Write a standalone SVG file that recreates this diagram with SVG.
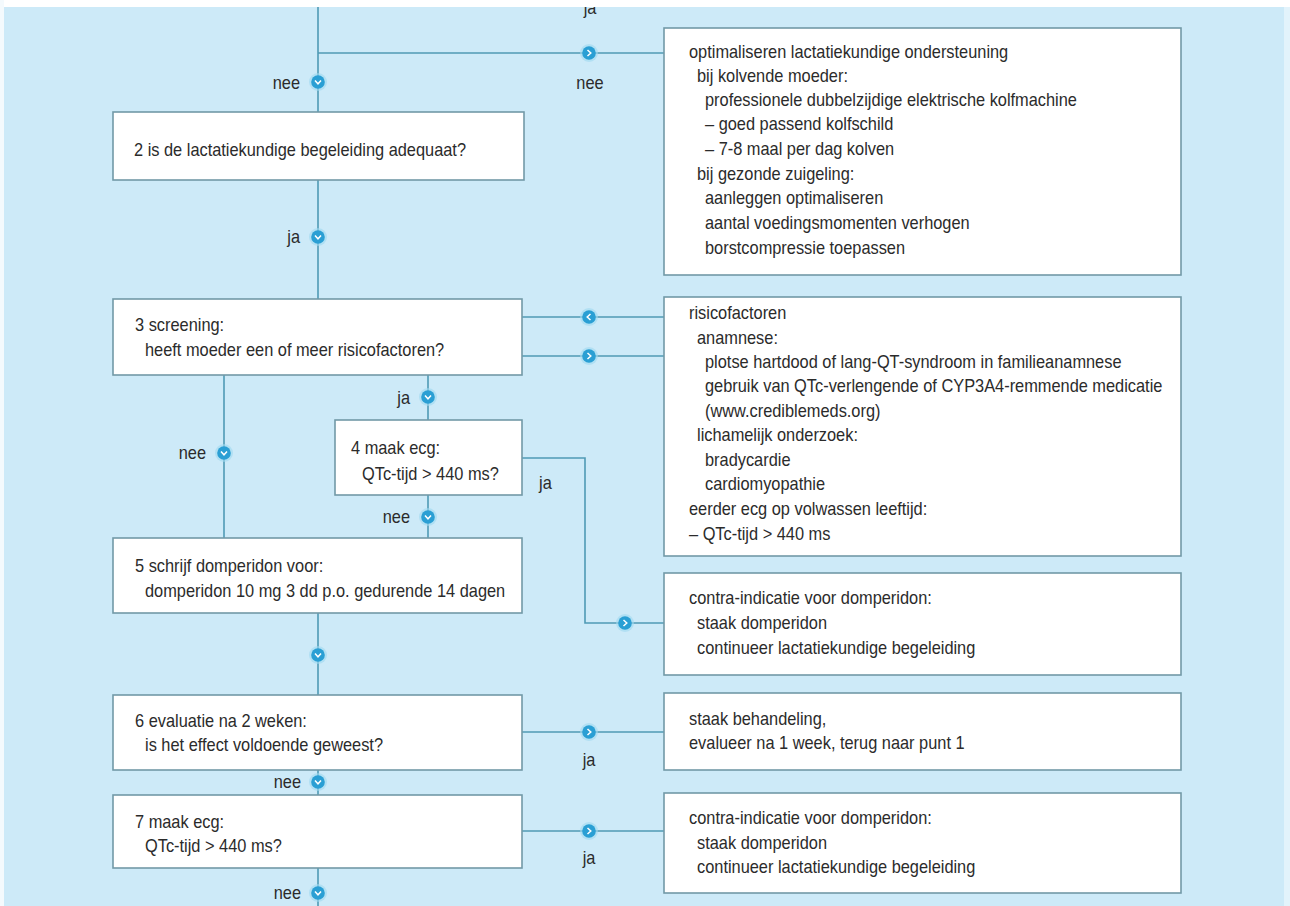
<svg xmlns="http://www.w3.org/2000/svg" xmlns:xlink="http://www.w3.org/1999/xlink" width="1290" height="906" viewBox="0 0 1290 906">
<style>
.bg{fill:#cdeaf8}
.box{fill:#ffffff;stroke:#7299a7;stroke-width:1.6}
.t{font-family:"Liberation Sans",Arial,sans-serif;font-size:18px;fill:#2b2b2b}
.c{fill:none;stroke:#4f9ab5;stroke-width:1.6}
.e{text-anchor:end}
.m{text-anchor:middle}
</style>
<defs>
<g id="dn"><circle r="9" fill="#9fd8f0" opacity="0.6"/><circle r="6.8" fill="#2a9fd4"/><path d="M-3,-1.5 L0,1.8 L3,-1.5" fill="none" stroke="#ffffff" stroke-width="1.5"/></g>
<g id="rt"><circle r="9" fill="#9fd8f0" opacity="0.6"/><circle r="6.8" fill="#2a9fd4"/><path d="M-1.5,-3 L1.8,0 L-1.5,3" fill="none" stroke="#ffffff" stroke-width="1.5"/></g>
<g id="lf"><circle r="9" fill="#9fd8f0" opacity="0.6"/><circle r="6.8" fill="#2a9fd4"/><path d="M1.5,-3 L-1.8,0 L1.5,3" fill="none" stroke="#ffffff" stroke-width="1.5"/></g>
</defs>
<rect class="bg" x="0" y="0" width="1290" height="906"/>

<g id="connectors">
<path class="c" d="M318,7 V112"/>
<path class="c" d="M318,53 H664"/>
<path class="c" d="M318,180 V299"/>
<path class="c" d="M522,317 H664"/>
<path class="c" d="M522,356 H664"/>
<path class="c" d="M224,375 V538"/>
<path class="c" d="M428,375 V420"/>
<path class="c" d="M522,458 H585 V623 H664"/>
<path class="c" d="M428,495 V538"/>
<path class="c" d="M318,613 V695"/>
<path class="c" d="M522,732 H664"/>
<path class="c" d="M318,770 V795"/>
<path class="c" d="M522,831 H664"/>
<path class="c" d="M318,868 V906"/>
<use xlink:href="#rt" x="589" y="53"/>
<use xlink:href="#dn" x="318" y="82"/>
<use xlink:href="#dn" x="318" y="237"/>
<use xlink:href="#lf" x="589" y="317"/>
<use xlink:href="#rt" x="589" y="356"/>
<use xlink:href="#dn" x="224" y="453"/>
<use xlink:href="#dn" x="428" y="397"/>
<use xlink:href="#dn" x="428" y="517"/>
<use xlink:href="#rt" x="625" y="623"/>
<use xlink:href="#dn" x="318" y="655"/>
<use xlink:href="#rt" x="589" y="732"/>
<use xlink:href="#dn" x="318" y="782"/>
<use xlink:href="#rt" x="589" y="831"/>
<use xlink:href="#dn" x="318" y="893"/>
<text class="t m" transform="matrix(0.91 0 0 1 590 14)">ja</text>
<text class="t m" transform="matrix(0.91 0 0 1 590 89)">nee</text>
<text class="t e" transform="matrix(0.91 0 0 1 300 89)">nee</text>
<text class="t e" transform="matrix(0.91 0 0 1 300 243)">ja</text>
<text class="t e" transform="matrix(0.91 0 0 1 410 404)">ja</text>
<text class="t e" transform="matrix(0.91 0 0 1 206 459)">nee</text>
<text class="t" transform="matrix(0.91 0 0 1 539 489)">ja</text>
<text class="t e" transform="matrix(0.91 0 0 1 410 523)">nee</text>
<text class="t m" transform="matrix(0.91 0 0 1 589 766)">ja</text>
<text class="t e" transform="matrix(0.91 0 0 1 301 788)">nee</text>
<text class="t m" transform="matrix(0.91 0 0 1 589 864)">ja</text>
<text class="t e" transform="matrix(0.91 0 0 1 301 899)">nee</text>
</g>

<g id="n2"><rect class="box" x="113" y="112" width="411" height="68"/>
<text class="t" transform="matrix(0.91 0 0 1 134 156)">2 is de lactatiekundige begeleiding adequaat?</text></g>

<g id="n3"><rect class="box" x="113" y="299" width="409" height="76"/>
<text class="t" transform="matrix(0.91 0 0 1 135 331)">3 screening:</text>
<text class="t" transform="matrix(0.91 0 0 1 145 356)">heeft moeder een of meer risicofactoren?</text></g>

<g id="n4"><rect class="box" x="335" y="420" width="187" height="75"/>
<text class="t" transform="matrix(0.91 0 0 1 351 454)">4 maak ecg:</text>
<text class="t" transform="matrix(0.91 0 0 1 362 480)">QTc-tijd &gt; 440 ms?</text></g>

<g id="n5"><rect class="box" x="113" y="538" width="409" height="75"/>
<text class="t" transform="matrix(0.91 0 0 1 135 572)">5 schrijf domperidon voor:</text>
<text class="t" transform="matrix(0.91 0 0 1 145 597)">domperidon 10 mg 3 dd p.o. gedurende 14 dagen</text></g>

<g id="n6"><rect class="box" x="113" y="695" width="409" height="75"/>
<text class="t" transform="matrix(0.91 0 0 1 135 727)">6 evaluatie na 2 weken:</text>
<text class="t" transform="matrix(0.91 0 0 1 145 751)">is het effect voldoende geweest?</text></g>

<g id="n7"><rect class="box" x="113" y="795" width="409" height="73"/>
<text class="t" transform="matrix(0.91 0 0 1 135 828)">7 maak ecg:</text>
<text class="t" transform="matrix(0.91 0 0 1 145 852)">QTc-tijd &gt; 440 ms?</text></g>

<g id="r1"><rect class="box" x="664" y="28" width="517" height="247"/>
<text class="t" transform="matrix(0.91 0 0 1 689 58)">optimaliseren lactatiekundige ondersteuning</text>
<text class="t" transform="matrix(0.91 0 0 1 697 82)">bij kolvende moeder:</text>
<text class="t" transform="matrix(0.91 0 0 1 705 106)">professionele dubbelzijdige elektrische kolfmachine</text>
<text class="t" transform="matrix(0.91 0 0 1 705 130)">– goed passend kolfschild</text>
<text class="t" transform="matrix(0.91 0 0 1 705 155)">– 7-8 maal per dag kolven</text>
<text class="t" transform="matrix(0.91 0 0 1 697 180)">bij gezonde zuigeling:</text>
<text class="t" transform="matrix(0.91 0 0 1 705 204)">aanleggen optimaliseren</text>
<text class="t" transform="matrix(0.91 0 0 1 705 229)">aantal voedingsmomenten verhogen</text>
<text class="t" transform="matrix(0.91 0 0 1 705 254)">borstcompressie toepassen</text></g>

<g id="r2"><rect class="box" x="664" y="297" width="517" height="259"/>
<text class="t" transform="matrix(0.91 0 0 1 689 319)">risicofactoren</text>
<text class="t" transform="matrix(0.91 0 0 1 697 344)">anamnese:</text>
<text class="t" transform="matrix(0.91 0 0 1 705 368)">plotse hartdood of lang-QT-syndroom in familieanamnese</text>
<text class="t" transform="matrix(0.91 0 0 1 705 392)">gebruik van QTc-verlengende of CYP3A4-remmende medicatie</text>
<text class="t" transform="matrix(0.91 0 0 1 705 417)">(www.crediblemeds.org)</text>
<text class="t" transform="matrix(0.91 0 0 1 697 441)">lichamelijk onderzoek:</text>
<text class="t" transform="matrix(0.91 0 0 1 705 466)">bradycardie</text>
<text class="t" transform="matrix(0.91 0 0 1 705 490)">cardiomyopathie</text>
<text class="t" transform="matrix(0.91 0 0 1 689 515)">eerder ecg op volwassen leeftijd:</text>
<text class="t" transform="matrix(0.91 0 0 1 689 540)">– QTc-tijd &gt; 440 ms</text></g>

<g id="r3"><rect class="box" x="664" y="573" width="517" height="102"/>
<text class="t" transform="matrix(0.91 0 0 1 689 604)">contra-indicatie voor domperidon:</text>
<text class="t" transform="matrix(0.91 0 0 1 697 629)">staak domperidon</text>
<text class="t" transform="matrix(0.91 0 0 1 697 654)">continueer lactatiekundige begeleiding</text></g>

<g id="r4"><rect class="box" x="664" y="693" width="517" height="77"/>
<text class="t" transform="matrix(0.91 0 0 1 689 725)">staak behandeling,</text>
<text class="t" transform="matrix(0.91 0 0 1 689 749)">evalueer na 1 week, terug naar punt 1</text></g>

<g id="r5"><rect class="box" x="664" y="793" width="517" height="100"/>
<text class="t" transform="matrix(0.91 0 0 1 689 824)">contra-indicatie voor domperidon:</text>
<text class="t" transform="matrix(0.91 0 0 1 697 849)">staak domperidon</text>
<text class="t" transform="matrix(0.91 0 0 1 697 873)">continueer lactatiekundige begeleiding</text></g>

<rect x="0" y="0" width="1290" height="7" fill="#ffffff"/>
<rect x="0" y="0" width="4" height="906" fill="#f4fafd"/>
<rect x="1284" y="7" width="6" height="899" fill="#e2f3fb"/>
</svg>
